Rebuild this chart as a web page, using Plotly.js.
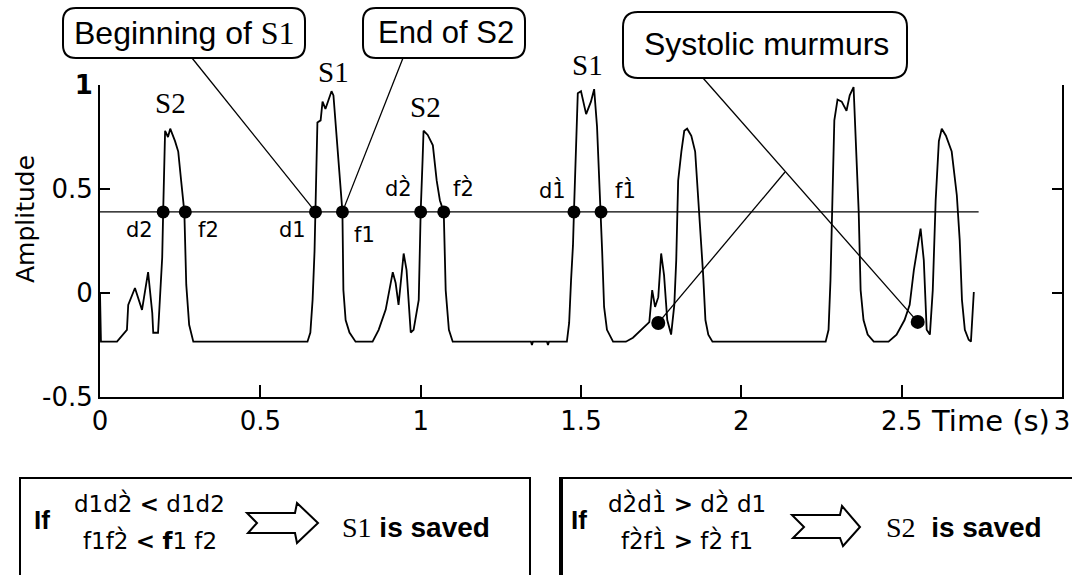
<!DOCTYPE html>
<html>
<head>
<meta charset="utf-8">
<script src="https://cdn.plot.ly/plotly-3.0.1.min.js"></script>
<style>html,body{margin:0;padding:0;background:#fff;}#chart{width:1072px;height:575px;}</style>
</head>
<body>
<div id="chart"></div>
<script>
// ---------------- data ----------------
const timeS = [0, 0.003, 0.053, 0.084, 0.088, 0.109, 0.131, 0.15, 0.163, 0.166, 0.181, 0.184, 0.194, 0.197, 0.2, 0.203, 0.212, 0.219, 0.234, 0.244, 0.253, 0.263, 0.269, 0.278, 0.291,
  0.647, 0.656, 0.663, 0.669, 0.672, 0.675, 0.678, 0.688, 0.694, 0.703, 0.722, 0.728, 0.741, 0.75, 0.756, 0.759, 0.766, 0.778, 0.797,
  0.85, 0.869, 0.891, 0.903, 0.913, 0.922, 0.931, 0.947, 0.956, 0.969, 0.978, 0.994, 1.0, 1.006, 1.009, 1.022, 1.038, 1.05, 1.06, 1.072, 1.078, 1.088, 1.1,
  1.344, 1.347, 1.35, 1.394, 1.397, 1.4, 1.456, 1.463, 1.469, 1.475, 1.478, 1.484, 1.49, 1.5, 1.516, 1.531, 1.541, 1.55, 1.5625, 1.566, 1.572, 1.581, 1.6,
  1.64, 1.662, 1.688, 1.713, 1.722, 1.731, 1.741, 1.75, 1.759, 1.769, 1.781, 1.791, 1.797, 1.803, 1.813, 1.822, 1.831, 1.844, 1.856, 1.866, 1.872, 1.881, 1.888, 1.897, 1.91,
  2.263, 2.272, 2.278, 2.284, 2.29, 2.3, 2.313, 2.328, 2.338, 2.35, 2.359, 2.366, 2.372, 2.381, 2.394, 2.413,
  2.459, 2.484, 2.509, 2.525, 2.538, 2.55, 2.559, 2.569, 2.578, 2.588, 2.597, 2.606, 2.616, 2.625, 2.638, 2.656, 2.672, 2.681, 2.688, 2.697, 2.709, 2.716, 2.725];
const amplitude = [0, -0.234, -0.234, -0.177, -0.057, 0.024, -0.081, 0.1, -0.096, -0.191, -0.191, -0.096, 0.172, 0.39, 0.64, 0.78, 0.75, 0.79, 0.73, 0.68, 0.54, 0.39, 0.04, -0.153, -0.234,
  -0.234, -0.19, -0.033, 0.2, 0.39, 0.59, 0.82, 0.83, 0.92, 0.885, 0.97, 0.95, 0.68, 0.54, 0.39, 0.014, -0.13, -0.19, -0.234,
  -0.234, -0.177, -0.08, 0.014, 0.1, 0.048, -0.057, 0.19, 0.11, -0.19, -0.177, -0.033, 0.39, 0.64, 0.78, 0.76, 0.71, 0.54, 0.445, 0.39, 0.014, -0.177, -0.234,
  -0.234, -0.25, -0.234, -0.234, -0.25, -0.234, -0.234, -0.144, 0.062, 0.23, 0.39, 0.68, 0.96, 0.97, 0.86, 0.92, 0.98, 0.8, 0.39, 0.2, -0.067, -0.177, -0.234,
  -0.234, -0.215, -0.177, -0.14, 0.014, -0.067, -0.02, 0.19, 0.086, -0.13, -0.2, -0.057, 0.158, 0.54, 0.68, 0.78, 0.79, 0.756, 0.68, 0.445, 0.278, 0.086, -0.13, -0.2, -0.234,
  -0.234, -0.177, 0.062, 0.445, 0.83, 0.93, 0.92, 0.876, 0.95, 0.99, 0.68, 0.39, 0.014, -0.13, -0.2, -0.234,
  -0.234, -0.2, -0.13, -0.057, 0.11, 0.23, 0.31, 0.158, -0.177, -0.2, 0.014, 0.445, 0.73, 0.79, 0.756, 0.68, 0.47, 0.254, -0.033, -0.177, -0.225, -0.234, 0.005];

const threshold = 0.39;
const thresholdEnd = 2.74;
const crossTimes = [0.197, 0.266, 0.672, 0.756, 1.0, 1.072, 1.478, 1.5625];
const crossNames = ['d2', 'f2', 'd1', 'f1', 'd2\u0300', 'f2\u0300', 'd1\u0300', 'f1\u0300'];
const murmurTimes = [1.741, 2.55];
const murmurAmps = [-0.144, -0.139];
const peakNames = ['S2', 'S1', 'S2', 'S1'];
const xTickVals = [0, 0.5, 1, 1.5, 2, 2.5, 3];
const xTickText = ['0', '0.5', '1', '1.5', '2', '2.5', '3'];
const yTickVals = [-0.5, 0, 0.5, 1];
const yTickText = ['-0.5', '0', '0.5', '<b>1</b>'];

// ---------------- geometry helpers ----------------
const L = 100, R = 1062, T = 85, B = 397;
const XR = [0, 3], YR = [-0.5, 1];
const px = x => (x - L) / (R - L);
const py = y => (B - y) / (B - T);
const dx = x => (x - XR[0]) / (XR[1] - XR[0]);
const dy = y => (y - YR[0]) / (YR[1] - YR[0]);
const pt = (x, y) => px(x).toFixed(5) + ',' + py(y).toFixed(5);

function rrect(x0, y0, x1, y1, r) {
  return 'M' + pt(x0 + r, y0) + ' L' + pt(x1 - r, y0) + ' Q' + pt(x1, y0) + ' ' + pt(x1, y0 + r) +
    ' L' + pt(x1, y1 - r) + ' Q' + pt(x1, y1) + ' ' + pt(x1 - r, y1) +
    ' L' + pt(x0 + r, y1) + ' Q' + pt(x0, y1) + ' ' + pt(x0, y1 - r) +
    ' L' + pt(x0, y0 + r) + ' Q' + pt(x0, y0) + ' ' + pt(x0 + r, y0) + ' Z';
}
function poly(points) {
  return points.map((p, i) => (i ? 'L' : 'M') + pt(p[0], p[1])).join(' ') + ' Z';
}
const BLK = '#000';
function lineP(x0, y0, x1, y1, w) {
  return {type: 'line', xref: 'paper', yref: 'paper', x0: x0, y0: y0, x1: x1, y1: y1, line: {color: BLK, width: w || 1.3}};
}

const shapes = [
  {type: 'path', xref: 'paper', yref: 'paper', path: rrect(63, 8, 305, 58, 13), line: {color: BLK, width: 2}},
  {type: 'path', xref: 'paper', yref: 'paper', path: rrect(363, 8, 525, 58, 13), line: {color: BLK, width: 2}},
  {type: 'path', xref: 'paper', yref: 'paper', path: rrect(623, 12, 907, 78, 15), line: {color: BLK, width: 2}},
  lineP(px(192), py(58), dx(crossTimes[2]), dy(threshold)),
  lineP(px(403), py(58), dx(crossTimes[3]), dy(threshold)),
  lineP(px(703), py(78), dx(murmurTimes[1]), dy(murmurAmps[1])),
  lineP(dx(murmurTimes[0]), dy(murmurAmps[0]), px(785), py(172)),
  // bottom boxes
  {type: 'rect', xref: 'paper', yref: 'paper', x0: px(20), x1: px(530), y0: py(478), y1: py(600), line: {color: BLK, width: 2}},
  {type: 'rect', xref: 'paper', yref: 'paper', x0: px(560), x1: px(1085), y0: py(478), y1: py(600), line: {color: BLK, width: 2}},
  lineP(px(561), py(478), px(561), py(600), 4),
  // hollow arrows
  {type: 'path', xref: 'paper', yref: 'paper', line: {color: BLK, width: 2},
    path: poly([[247, 513], [295, 513], [297, 503], [318, 523], [297, 543], [295, 533], [248, 533], [257, 523]])},
  {type: 'path', xref: 'paper', yref: 'paper', line: {color: BLK, width: 2},
    path: poly([[792, 515], [840, 515], [842, 506], [860, 527], [843, 546], [840, 538], [793, 538], [804, 527]])}
];

const SANS = 'DejaVu Sans, sans-serif';
const ARIAL = 'Liberation Sans, Arial, sans-serif';
const SERIF = 'Liberation Serif, serif';
function annP(text, x, y, size, family, extra) {
  return Object.assign({text: text, xref: 'paper', yref: 'paper', x: px(x), y: py(y), showarrow: false,
    xanchor: 'center', yanchor: 'middle', font: {size: size, family: family, color: BLK}}, extra || {});
}

// label positions (pixels)
const peakLabelPx = [[170, 103], [333, 72], [425, 107], [587, 65]];
const crossLabelPx = [[139, 230], [208, 230], [292, 230], [364, 235], [398, 188], [463, 188], [552, 190], [625, 190]];

const annotations = [
  annP('Beginning of <span style="font-family:Liberation Serif">S1</span>', 184, 33, 32, ARIAL),
  annP('End of S2', 446, 33, 31, ARIAL),
  annP('Systolic murmurs', 766, 44, 32, ARIAL),
  annP('Amplitude', 25, 219, 25, SANS, {textangle: -90}),
  annP('Time (s)', 990, 421, 29, SANS),
  // bottom box 1
  annP('<b>If</b>', 42, 520, 26, ARIAL),
  annP('d1d2\u0300 <b>&lt;</b> d1d2', 149, 503, 23, SANS),
  annP('f1f2\u0300 <b>&lt;</b> <b>f</b>1 f2', 150, 540, 23, SANS),
  annP('<span style="font-family:Liberation Serif">S1</span> <b>is saved</b>', 416, 527, 28, ARIAL),
  // bottom box 2
  annP('<b>If</b>', 579, 520, 26, ARIAL),
  annP('d2\u0300d1\u0300 <b>&gt;</b> d2\u0300 d1', 687, 503, 23, SANS),
  annP('f2\u0300f1\u0300 <b>&gt;</b> f2\u0300 f1', 687, 540, 23, SANS),
  annP('<span style="font-family:Liberation Serif">S2</span>  <b>is saved</b>', 964, 527, 28, ARIAL)
];
peakNames.forEach((t, i) => annotations.push(annP(t, peakLabelPx[i][0], peakLabelPx[i][1], 29, SERIF)));
crossNames.forEach((t, i) => annotations.push(annP(t, crossLabelPx[i][0], crossLabelPx[i][1], 21, SANS)));

const traces = [
  {x: timeS, y: amplitude, type: 'scatter', mode: 'lines', line: {color: BLK, width: 1.8}, hoverinfo: 'skip'},
  {x: [0, thresholdEnd], y: [threshold, threshold], type: 'scatter', mode: 'lines', line: {color: BLK, width: 1.3}},
  {x: crossTimes, y: crossTimes.map(() => threshold), type: 'scatter', mode: 'markers', marker: {color: BLK, size: 13}},
  {x: murmurTimes, y: murmurAmps, type: 'scatter', mode: 'markers', marker: {color: BLK, size: 14}}
];

const axisBase = {showgrid: false, zeroline: false, showline: true, linecolor: BLK, linewidth: 2,
  ticks: 'inside', tickcolor: BLK, tickwidth: 2, tickfont: {family: SANS, size: 26, color: BLK}, fixedrange: true};

const layout = {
  width: 1072, height: 575,
  margin: {l: L, r: 1072 - R, t: T, b: 575 - B, pad: 0},
  paper_bgcolor: '#fff', plot_bgcolor: '#fff',
  showlegend: false,
  xaxis: Object.assign({}, axisBase, {range: XR, tickvals: xTickVals, ticktext: xTickText, ticklen: 12}),
  yaxis: Object.assign({}, axisBase, {range: YR, tickvals: yTickVals, ticktext: yTickText, ticklen: 10, mirror: 'ticks'}),
  shapes: shapes,
  annotations: annotations
};

Plotly.newPlot('chart', traces, layout, {displayModeBar: false, staticPlot: true});
</script>
</body>
</html>
